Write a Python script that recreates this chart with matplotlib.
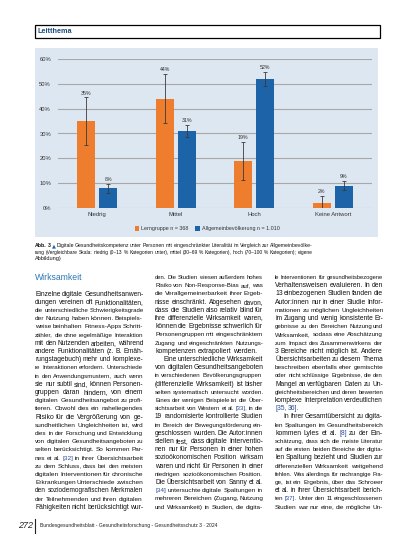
import matplotlib
matplotlib.use("Agg")
import matplotlib.pyplot as plt
import numpy as np
from matplotlib import font_manager
from matplotlib.patches import Rectangle
from matplotlib.lines import Line2D

# chart data
categories = ["Niedrig", "Mittel", "Hoch", "Keine Antwort"]
lern = [35, 44, 19, 2]
lern_err = [9.5, 9.8, 7.7, 2.8]
allg = [8, 31, 52, 9]
allg_err = [1.8, 2.6, 2.8, 1.7]
legend_labels = ["Lerngruppe n = 368", "Allgemeinbevölkerung n = 1.010"]
yticks = [0, 10, 20, 30, 40, 50, 60]

caption = [
    "Abb. 3 ▲ Digitale Gesundheitskompetenz unter Personen mit eingeschränkter Literalität im Vergleich zur Allgemeinbevölke-",
    "rung (Vergleichbare Skala: niedrig (0–13 % Kategorien unter), mittel (30–69 % Kategorien), hoch (70–100 % Kategorien); eigene",
    "Abbildung)\n",
]

col1 = [
    "Einzelne digitale Gesundheitsanwen-",
    "dungen vereinen oft Funktionalitäten,",
    "die unterschiedliche Schwierigkeitsgrade",
    "der Nutzung haben können. Beispiels-",
    "weise beinhalten Fitness-Apps Schritt-",
    "zähler, die ohne regelmäßige Interaktion",
    "mit den Nutzenden arbeiten, während",
    "andere Funktionalitäten (z. B. Ernäh-",
    "rungstagebuch) mehr und komplexe-",
    "re Interaktionen erfordern. Unterschiede",
    "in den Anwendungsmustern, auch wenn",
    "sie nur subtil sind, können Personen-",
    "gruppen daran hindern, von einem",
    "digitalen Gesundheitsangebot zu profi-",
    "tieren. Obwohl dies ein naheliegendes",
    "Risiko für die Vergrößerung von ge-",
    "sundheitlichen Ungleichheiten ist, wird",
    "dies in der Forschung und Entwicklung",
    "von digitalen Gesundheitsangeboten zu",
    "selten berücksichtigt. So kommen Par-",
    "nes et al. [32] in ihrer Übersichtsarbeit",
    "zu dem Schluss, dass bei den meisten",
    "digitalen Interventionen für chronische",
    "Erkrankungen Unterschiede zwischen",
    "den soziodemografischen Merkmalen",
    "der Teilnehmenden und ihren digitalen",
    "Fähigkeiten nicht berücksichtigt wur-",
]

col2 = [
    "den. Die Studien wiesen außerdem hohes",
    "Risiko von Non-Response-Bias auf, was",
    "die Verallgemeinerbarkeit ihrer Ergeb-",
    "nisse einschränkt. Abgesehen davon,",
    "dass die Studien also relativ blind für",
    "ihre differenzielle Wirksamkeit waren,",
    "können die Ergebnisse schwerlich für",
    "Personengruppen mit eingeschränktem",
    "Zugang und eingeschränkten Nutzungs-",
    "kompetenzen extrapoliert werden.\n",
    "\tEine unterschiedliche Wirksamkeit",
    "von digitalen Gesundheitsangeboten",
    "in verschiedenen Bevölkerungsgruppen",
    "(differenzielle Wirksamkeit) ist bisher",
    "selten systematisch untersucht worden.",
    "Eines der wenigen Beispiele ist die Über-",
    "sichtsarbeit von Western et al. [33], in die",
    "19 randomisierte kontrollierte Studien",
    "im Bereich der Bewegungsförderung ein-",
    "geschlossen wurden. Die Autor:innen",
    "stellen fest, dass digitale Interventio-",
    "nen nur für Personen in einer hohen",
    "sozioökonomischen Position wirksam",
    "waren und nicht für Personen in einer",
    "niedrigen sozioökonomischen Position.",
    "Die Übersichtsarbeit von Sanny et al.",
    "[34] untersuchte digitale Spaltungen in",
    "mehreren Bereichen (Zugang, Nutzung",
    "und Wirksamkeit) in Studien, die digita-",
]

col3 = [
    "le Interventionen für gesundheitsbezogene",
    "Verhaltensweisen evaluieren. In den",
    "13 einbezogenen Studien fanden die",
    "Autor:innen nur in einer Studie Infor-",
    "mationen zu möglichen Ungleichheiten",
    "im Zugang und wenig konsistente Er-",
    "gebnisse zu den Bereichen Nutzung und",
    "Wirksamkeit, sodass eine Abschätzung",
    "zum Impact des Zusammenwirkens der",
    "3 Bereiche nicht möglich ist. Andere",
    "Übersichtsarbeiten zu diesem Thema",
    "beschreiben ebenfalls eher gemischte",
    "oder nicht schlüssige Ergebnisse, die den",
    "Mangel an verfügbaren Daten zu Un-",
    "gleichheitsbereichen und deren bewerten",
    "komplexe Interpretation verdeutlichen",
    "[35, 36].\n",
    "\tIn ihrer Gesamtübersicht zu digita-",
    "len Spaltungen im Gesundheitsbereich",
    "kommen Lyles et al. [8] zu der Ein-",
    "schätzung, dass sich die meiste Literatur",
    "auf die ersten beiden Bereiche der digita-",
    "len Spaltung bezieht und Studien zur",
    "differenziellen Wirksamkeit weitgehend",
    "fehlen. Was allerdings für nachrangige Fra-",
    "ge, ist ein Ergebnis, über das Schroeer",
    "et al. in ihrer Übersichtsarbeit berich-",
    "ten [37]. Unter den 11 eingeschlossenen",
    "Studien war nur eine, die mögliche Un-",
]

ORANGE = "#ee7d2e"
BLUE = "#1c63a8"
PANEL = "#dde7f1"


def have(name):
    try:
        font_manager.findfont(name, fallback_to_default=False)
        return True
    except Exception:
        return False


# one family per text (no fallback list) keeps sizes consistent
FONT = ([f for f in ["Liberation Sans Narrow", "Liberation Sans"] if have(f)] + ["DejaVu Sans"])[0]

W, H = 413, 550
fig = plt.figure(figsize=(W / 100, H / 100), dpi=100)
r = fig.canvas.get_renderer()


def t(x, y, s, **kw):
    kw.setdefault("family", FONT)
    return fig.text(x / W, 1 - y / H, s, **kw)


def block(lines, x0, y0, width, dy, size, color="#111111", bold_first=False):
    # justified text, "\t" = indent, trailing "\n" = ragged line;
    # a line that is too long gets a slightly smaller size
    base = 0.3 * size * 1.39  # centre -> baseline
    for i, line in enumerate(lines):
        indent = 8 if line.startswith("\t") else 0
        ragged = line.endswith("\n")
        words = line.strip().split(" ")
        kws = []
        for j, w in enumerate(words):
            kw = dict(color=color)
            if w.startswith("[") or w.endswith("]") or w.endswith("],") or w.endswith("]."):
                kw["color"] = "#2a4a9a"
            if bold_first and i == 0 and j < 2:
                kw["weight"] = "bold"
            if w == "▲":
                kw["color"] = BLUE
                kw["family"] = "DejaVu Sans"
            kws.append(kw)
        # measure first, then draw at the final size
        probe = [t(0, 0, w, fontsize=size, **kw) for w, kw in zip(words, kws)]
        widths = [p.get_window_extent(renderer=r).width for p in probe]
        for p in probe:
            p.remove()
        k = 1.0
        mingap = 0.24 * size * 1.39
        need = sum(widths) + mingap * (len(words) - 1)
        if need > width - indent:
            k = (width - indent) / need
        fs = size * k
        widths = [w * k for w in widths]
        mingap *= k
        if ragged or len(words) == 1:
            gap = mingap * 1.1
        else:
            gap = (width - indent - sum(widths)) / (len(words) - 1)
        x = x0 + indent
        y = y0 + i * dy + base
        for w, kw, wd in zip(words, kws, widths):
            t(x, y, w, fontsize=fs, va="baseline", **kw)
            x += wd + gap


# header
fig.add_artist(Rectangle((35 / W, 1 - 37.5 / H), 345 / W, 12.5 / H, transform=fig.transFigure,
                         facecolor="white", edgecolor="black", lw=0.9))
t(38, 31.5, "Leitthema", fontsize=5.2, weight="bold", color="#1d4f7c", va="center")

# chart panel
fig.add_artist(Rectangle((35 / W, 1 - 237 / H), 343 / W, 189 / H, transform=fig.transFigure,
                         facecolor=PANEL, edgecolor="none", zorder=0))

ax = fig.add_axes([58 / W, 1 - 208 / H, 314 / W, 149 / H])
ax.set_facecolor("none")
x = np.arange(len(categories))
off, bw = 0.14, 0.235
ekw = dict(ecolor="#3a3a3a", elinewidth=0.6, capsize=1.4, capthick=0.6)
ax.bar(x - off, lern, bw, color=ORANGE, yerr=lern_err, error_kw=ekw, zorder=3, label=legend_labels[0])
ax.bar(x + off, allg, bw, color=BLUE, yerr=allg_err, error_kw=ekw, zorder=3, label=legend_labels[1])
for xs, vals, errs in ((x - off, lern, lern_err), (x + off, allg, allg_err)):
    for xi, v, e in zip(xs, vals, errs):
        ax.text(xi, v + e + 0.8, f"{v}%", ha="center", va="bottom", fontsize=3.8,
                color="#333333", family=FONT)

ax.set_xlim(-0.5, 3.5)
ax.set_ylim(0, 60)
ax.set_yticks(yticks)
ax.set_yticklabels([f"{v}%" for v in yticks])
ax.set_xticks(x)
ax.set_xticklabels(categories)
ax.yaxis.grid(True, color="#a8a8a8", lw=0.8, zorder=1)
ax.set_axisbelow(True)
for s in ax.spines.values():
    s.set_visible(False)
ax.tick_params(length=0, labelsize=4.2, colors="#333333", pad=3)
for lab in ax.get_xticklabels() + ax.get_yticklabels():
    lab.set_family(FONT)
ax.tick_params(axis="y", pad=5)
leg = ax.legend(loc="center", bbox_to_anchor=(0.475, -0.14), ncol=2, frameon=False,
                prop={"family": FONT, "size": 3.9}, handlelength=0.8, handleheight=0.8,
                handletextpad=0.4, columnspacing=1.3, borderpad=0)
for tx in leg.get_texts():
    tx.set_color("#333333")

# caption
block(caption, 35, 245.5, 277, 6.6, 4.0, bold_first=True)

# body
t(35, 277, "Wirksamkeit", fontsize=6.2, color="#2a78b5", va="center")
block(col1, 35, 293.5, 108, 8.2, 4.9)
block(col2, 155, 277, 108, 8.2, 4.9)
block(col3, 275, 277, 108, 8.2, 4.9)

# footer
t(18, 526, "272", fontsize=6.5, style="italic", color="#222222", va="center")
fig.add_artist(Line2D([35 / W, 35 / W], [1 - 519 / H, 1 - 533 / H], transform=fig.transFigure,
                      color="#222222", lw=0.8))
t(40, 526, "Bundesgesundheitsblatt - Gesundheitsforschung - Gesundheitsschutz 3 · 2024",
  fontsize=3.6, color="#222222", va="center")

fig.savefig("out.png", dpi=100)
